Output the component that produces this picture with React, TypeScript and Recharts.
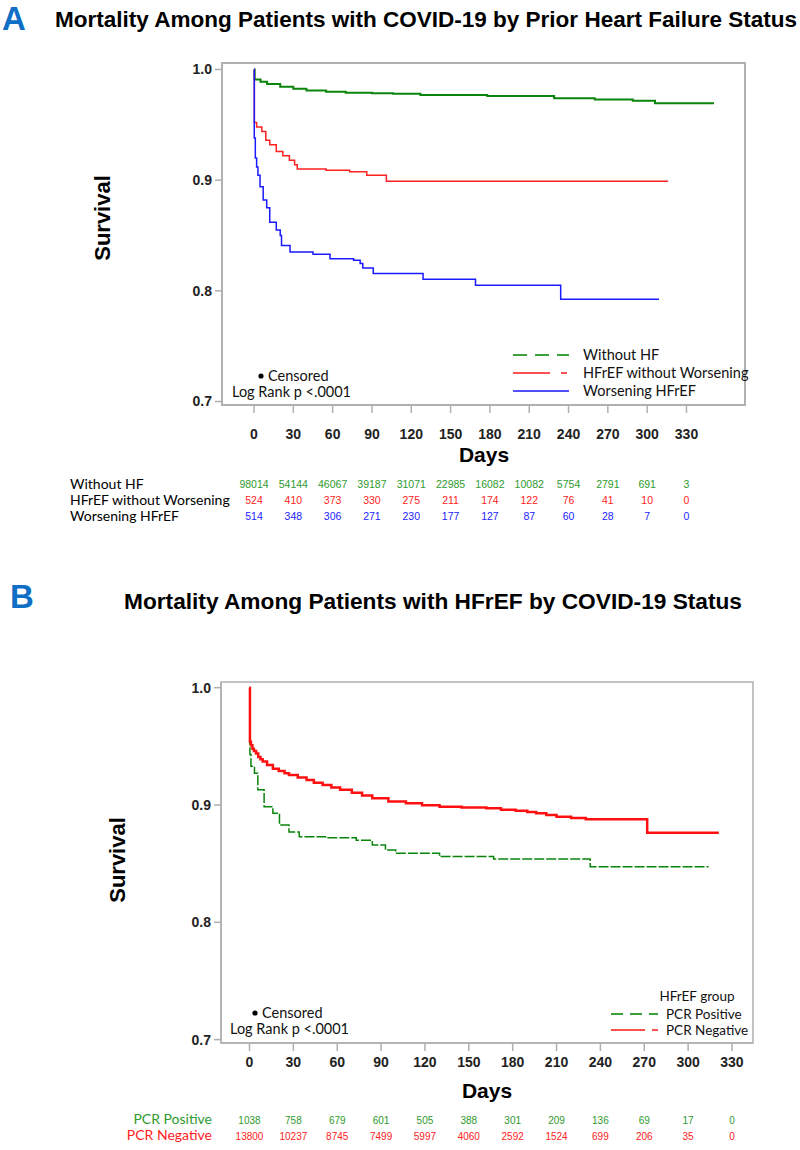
import React from "react";
import { LineChart, Line, XAxis, YAxis, ReferenceArea } from "recharts";

const SANS = '"Liberation Sans", Arial, sans-serif';
const CAL = 'Lato, "Open Sans", sans-serif';
const FRAME = "#b0b0b0";

// shared axis ticks
const dayTicks = [0, 30, 60, 90, 120, 150, 180, 210, 240, 270, 300, 330];
const survTicks = [0.7, 0.8, 0.9, 1.0];

// Panel A - KM steps
const withoutHfDays = [0, 0.5, 5, 10, 20, 30, 40, 55, 70, 90, 106, 127, 178, 229, 260, 289, 306, 351];
const withoutHfSurv = [1.0, 0.991, 0.989, 0.987, 0.9845, 0.9825, 0.981, 0.98, 0.979, 0.9785, 0.978, 0.977, 0.976, 0.974, 0.973, 0.9718, 0.9694, 0.9694];

const hfrefDays = [0, 0.3, 2, 6, 9, 12, 17, 22, 27, 31, 33, 55, 73, 86, 101, 316];
const hfrefSurv = [1.0, 0.952, 0.948, 0.944, 0.936, 0.932, 0.926, 0.922, 0.918, 0.914, 0.91, 0.909, 0.9075, 0.9045, 0.899, 0.899];

const worseningDays = [0, 0.2, 1, 2, 3, 4.6, 7, 9.7, 12, 17, 20, 21, 27.5, 45, 58, 76, 81, 83, 91, 129, 169, 234, 309];
const worseningSurv = [1.0, 0.938, 0.92, 0.912, 0.9045, 0.894, 0.882, 0.875, 0.862, 0.855, 0.85, 0.841, 0.835, 0.833, 0.829, 0.8276, 0.8246, 0.8206, 0.8156, 0.8104, 0.805, 0.7923, 0.7923];

// Panel B
const pcrPosDays = [0, 0.3, 1, 3.4, 5.7, 10, 16, 20.5, 27, 34, 52, 73, 84, 93, 100, 130, 167, 233, 314];
const pcrPosSurv = [1.0, 0.943, 0.933, 0.927, 0.913, 0.8986, 0.893, 0.883, 0.877, 0.873, 0.872, 0.87, 0.866, 0.8616, 0.8588, 0.856, 0.854, 0.8474, 0.8474];

const pcrNegDays = [0, 0.3, 1, 2, 3, 4.5, 6, 7.5, 9, 12, 16, 20, 24, 27, 33, 39, 44, 50, 56, 62, 70, 77, 84, 95, 107, 118, 130, 145, 162, 172, 182, 190, 196, 203, 210, 220, 230, 272, 321];
const pcrNegSurv = [1.0, 0.954, 0.951, 0.948, 0.946, 0.944, 0.941, 0.939, 0.937, 0.934, 0.931, 0.929, 0.927, 0.9256, 0.9235, 0.9213, 0.919, 0.917, 0.915, 0.913, 0.9105, 0.908, 0.9057, 0.903, 0.9015, 0.8998, 0.8986, 0.8978, 0.8972, 0.896, 0.8951, 0.894, 0.8929, 0.8915, 0.89, 0.889, 0.8878, 0.8764, 0.8764];

// numbers at risk
const riskWithoutHf = [98014, 54144, 46067, 39187, 31071, 22985, 16082, 10082, 5754, 2791, 691, 3];
const riskHfref = [524, 410, 373, 330, 275, 211, 174, 122, 76, 41, 10, 0];
const riskWorsening = [514, 348, 306, 271, 230, 177, 127, 87, 60, 28, 7, 0];
const riskPcrPos = [1038, 758, 679, 601, 505, 388, 301, 209, 136, 69, 17, 0];
const riskPcrNeg = [13800, 10237, 8745, 7499, 5997, 4060, 2592, 1524, 699, 206, 35, 0];

const toPoints = (days: number[], surv: number[]) => days.map((d, i) => ({ day: d, s: surv[i] }));

type RiskRow = { values: number[]; color: string };

// x tick = day label + numbers at risk underneath, so they sit on the axis scale
function makeDayTick(rows: RiskRow[], labelDy: number, rowDy: number[], numSize: number) {
  return (props: any) => {
    const { x, y, payload } = props;
    const i = dayTicks.indexOf(payload.value);
    return (
      <g>
        <text x={x} y={y + labelDy} textAnchor="middle" fontFamily={SANS} fontSize={14} fontWeight="bold" fill="#222">
          {payload.value}
        </text>
        {rows.map((r, k) => (
          <text key={k} x={x} y={y + rowDy[k]} textAnchor="middle" fontFamily={SANS} fontSize={numSize} fill={r.color}>
            {r.values[i]}
          </text>
        ))}
      </g>
    );
  };
}

const tickA = makeDayTick(
  [
    { values: riskWithoutHf, color: "#2e9a2e" },
    { values: riskHfref, color: "#ff2222" },
    { values: riskWorsening, color: "#2222ff" },
  ],
  26,
  [75, 91, 107],
  10.5
);

const tickB = makeDayTick(
  [
    { values: riskPcrPos, color: "#2e9a2e" },
    { values: riskPcrNeg, color: "#ff2222" },
  ],
  16,
  [73, 89],
  10
);

const yTick = { fontFamily: SANS, fontSize: 14, fontWeight: "bold", fill: "#222" };

export default function App() {
  const xDomA: [number, number] = [-24.42, 374.64];
  const yDomA: [number, number] = [0.69684, 1.00587];
  const xDomB: [number, number] = [-19.49, 344.37];
  const yDomB: [number, number] = [0.6971, 1.00486];

  return (
    <div style={{ position: "absolute", left: 0, top: 0, width: 800, height: 1150, background: "#fff", overflow: "hidden" }}>
      {/* Panel A */}
      <div style={{ position: "absolute", left: 0, top: 0 }}>
        <LineChart width={800} height={530} margin={{ top: 63, right: 55, bottom: 0, left: 0 }}>
          <XAxis
            dataKey="day"
            type="number"
            domain={xDomA}
            ticks={dayTicks}
            interval={0}
            height={125}
            tickSize={8}
            tickMargin={0}
            axisLine={{ stroke: FRAME, strokeWidth: 2 }}
            tickLine={{ stroke: FRAME, strokeWidth: 1.5 }}
            tick={tickA}
          />
          <YAxis
            type="number"
            domain={yDomA}
            ticks={survTicks}
            interval={0}
            width={222}
            tickSize={7}
            tickMargin={3}
            tickFormatter={(v: number) => v.toFixed(1)}
            axisLine={{ stroke: FRAME, strokeWidth: 2 }}
            tickLine={{ stroke: FRAME, strokeWidth: 1.5 }}
            tick={yTick}
          />
          <ReferenceArea x1={xDomA[0]} x2={xDomA[1]} y1={yDomA[0]} y2={yDomA[1]} fill="none" stroke={FRAME} strokeWidth={2} ifOverflow="visible" />
          <Line data={toPoints(withoutHfDays, withoutHfSurv)} dataKey="s" type="stepAfter" stroke="#0a840a" strokeWidth={2} dot={false} isAnimationActive={false} />
          <Line data={toPoints(hfrefDays, hfrefSurv)} dataKey="s" type="stepAfter" stroke="#ff2020" strokeWidth={1.5} dot={false} isAnimationActive={false} />
          <Line data={toPoints(worseningDays, worseningSurv)} dataKey="s" type="stepAfter" stroke="#1a1aff" strokeWidth={1.5} dot={false} isAnimationActive={false} />
        </LineChart>
      </div>

      {/* Panel B */}
      <div style={{ position: "absolute", left: 0, top: 640 }}>
        <LineChart width={800} height={510} margin={{ top: 42, right: 47, bottom: 0, left: 0 }}>
          <XAxis
            dataKey="day"
            type="number"
            domain={xDomB}
            ticks={dayTicks}
            interval={0}
            height={107}
            tickSize={8}
            tickMargin={0}
            axisLine={{ stroke: FRAME, strokeWidth: 1.5 }}
            tickLine={{ stroke: FRAME, strokeWidth: 1.5 }}
            tick={tickB}
          />
          <YAxis
            type="number"
            domain={yDomB}
            ticks={survTicks}
            interval={0}
            width={221}
            tickSize={7}
            tickMargin={3}
            tickFormatter={(v: number) => v.toFixed(1)}
            axisLine={{ stroke: FRAME, strokeWidth: 1.5 }}
            tickLine={{ stroke: FRAME, strokeWidth: 1.5 }}
            tick={yTick}
          />
          <ReferenceArea x1={xDomB[0]} x2={xDomB[1]} y1={yDomB[0]} y2={yDomB[1]} fill="none" stroke={FRAME} strokeWidth={1.5} ifOverflow="visible" />
          <Line data={toPoints(pcrPosDays, pcrPosSurv)} dataKey="s" type="stepAfter" stroke="#0a840a" strokeWidth={1.5} strokeDasharray="10 2" dot={false} isAnimationActive={false} />
          <Line data={toPoints(pcrNegDays, pcrNegSurv)} dataKey="s" type="stepAfter" stroke="#ff1010" strokeWidth={2.5} dot={false} isAnimationActive={false} />
        </LineChart>
      </div>

      {/* titles, axis titles, legends, risk-table labels */}
      <svg width={800} height={1150} style={{ position: "absolute", left: 0, top: 0, pointerEvents: "none" }}>
        <text x={2} y={30} fontFamily={SANS} fontSize={33} fontWeight="bold" fill="#0f6fc6">A</text>
        <text x={55} y={27} fontFamily={SANS} fontSize={22} fontWeight="bold" fill="#000" textLength={742} lengthAdjust="spacingAndGlyphs">
          Mortality Among Patients with COVID-19 by Prior Heart Failure Status
        </text>
        <text x={10} y={608} fontFamily={SANS} fontSize={33} fontWeight="bold" fill="#0f6fc6">B</text>
        <text x={124} y={609} fontFamily={SANS} fontSize={22} fontWeight="bold" fill="#000" textLength={618} lengthAdjust="spacingAndGlyphs">
          Mortality Among Patients with HFrEF by COVID-19 Status
        </text>

        <text transform="translate(110,218) rotate(-90)" textAnchor="middle" fontFamily={SANS} fontSize={22} fontWeight="bold" fill="#000">Survival</text>
        <text transform="translate(125,860) rotate(-90)" textAnchor="middle" fontFamily={SANS} fontSize={22} fontWeight="bold" fill="#000">Survival</text>
        <text x={484} y={462} textAnchor="middle" fontFamily={SANS} fontSize={21} fontWeight="bold" fill="#000">Days</text>
        <text x={487} y={1098} textAnchor="middle" fontFamily={SANS} fontSize={21} fontWeight="bold" fill="#000">Days</text>

        {/* legend A */}
        <line x1={513} x2={569} y1={355} y2={355} stroke="#3aa03a" strokeWidth={2} strokeDasharray="14 8" />
        <line x1={513} x2={550} y1={373} y2={373} stroke="#ff5050" strokeWidth={2} />
        <line x1={561} x2={567} y1={373} y2={373} stroke="#ff5050" strokeWidth={2} />
        <line x1={513} x2={569} y1={391} y2={391} stroke="#5050ff" strokeWidth={2} />
        <g fontFamily={CAL} fontSize={14.5} fill="#111">
          <text x={583} y={360}>Without HF</text>
          <text x={583} y={378}>HFrEF without Worsening</text>
          <text x={583} y={396}>Worsening HFrEF</text>
          <circle cx={261} cy={376} r={2.6} fill="#000" />
          <text x={268} y={381}>Censored</text>
          <text x={232} y={397}>Log Rank p &lt;.0001</text>
        </g>

        {/* legend B */}
        <line x1={611} x2={658} y1={1014} y2={1014} stroke="#3aa03a" strokeWidth={2} strokeDasharray="12 7" />
        <line x1={611} x2={645} y1={1030} y2={1030} stroke="#ff5050" strokeWidth={2} />
        <line x1={652} x2={658} y1={1030} y2={1030} stroke="#ff5050" strokeWidth={2} />
        <g fontFamily={CAL} fontSize={13.5} fill="#111">
          <text x={697} y={1001} textAnchor="middle">HFrEF group</text>
          <text x={666} y={1019}>PCR Positive</text>
          <text x={666} y={1035}>PCR Negative</text>
        </g>
        <g fontFamily={CAL} fontSize={14.5} fill="#111">
          <circle cx={255} cy={1013} r={2.6} fill="#000" />
          <text x={262} y={1018}>Censored</text>
          <text x={230} y={1034}>Log Rank p &lt;.0001</text>
        </g>

        {/* risk-table row labels */}
        <g fontFamily={CAL} fontSize={14} fill="#000">
          <text x={70} y={489}>Without HF</text>
          <text x={70} y={505}>HFrEF without Worsening</text>
          <text x={70} y={521}>Worsening HFrEF</text>
        </g>
        <g fontFamily={CAL} fontSize={14} textAnchor="end">
          <text x={212} y={1124} fill="#2e9a2e">PCR Positive</text>
          <text x={212} y={1140} fill="#ff2222">PCR Negative</text>
        </g>
      </svg>
    </div>
  );
}
